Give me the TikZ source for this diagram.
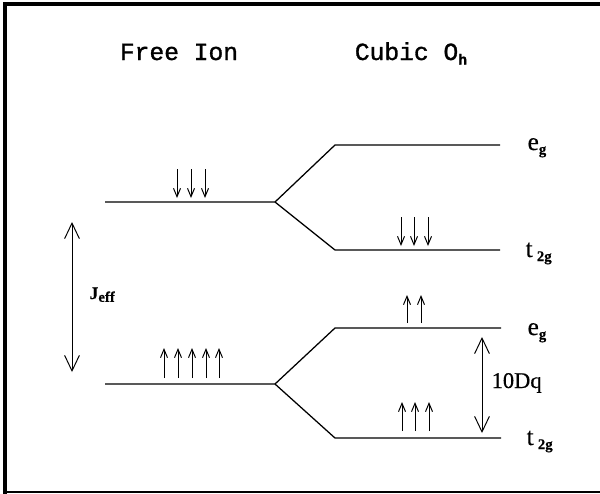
\documentclass[tikz,border=0pt]{standalone}
\usepackage{fontspec}
\setmainfont{Liberation Serif}[FakeBold=0.4]
\newfontfamily\titlefont{Liberation Mono}[FakeBold=1.2]
\usetikzlibrary{arrows.meta,positioning}
\newcommand{\lowidx}[1]{\raisebox{-0.35ex}{\fontsize{10.5}{10}\selectfont\bfseries #1}}

\begin{document}
\begin{tikzpicture}[x=0.025cm, y=-0.025cm, line width=0.9pt,
  spin/.style={-{Straight Barb[length=6pt,width=5pt]}, line width=0.7pt},
  gap/.style={{Straight Barb[length=11pt,width=10.5pt]}-{Straight Barb[length=11pt,width=10.5pt]}, line width=0.7pt},
  lbl/.style={anchor=base west, font=\fontsize{18}{20}\selectfont},
  every node/.style={inner sep=0pt}]
\useasboundingbox (0,0) rectangle (600,494);
% frame
\draw[line width=2.4pt] (5,497) -- (5,4) -- (605,4);
\draw[line width=0.8pt] (5,492) -- (605,492);
% titles
\node[anchor=base, font=\titlefont\fontsize{17.5}{20}\selectfont] (free) at (179,60) {Free Ion};
\node[anchor=base, font=\titlefont\fontsize{17.5}{20}\selectfont] (cubic) at (411,60) {Cubic O\lowidx{h}};
% upper manifold
\coordinate (fu0) at (105,202); \coordinate (fu) at (275,202);
\coordinate (egu0) at (335,145); \coordinate (egu) at (500,145);
\coordinate (tgu0) at (335,250); \coordinate (tgu) at (500,250);
\draw (fu0) -- (fu) -- (egu0) -- (egu);
\draw (fu) -- (tgu0) -- (tgu);
% lower manifold
\coordinate (fl0) at (105,384); \coordinate (fl) at (275,384);
\coordinate (egl0) at (335,328); \coordinate (egl) at (501,328);
\coordinate (tgl0) at (335,438); \coordinate (tgl) at (501,438);
\draw (fl0) -- (fl) -- (egl0) -- (egl);
\draw (fl) -- (tgl0) -- (tgl);
% spins
\foreach \x in {177,191,205} \draw[spin] (\x,169) -- (\x,198);
\foreach \x in {401,414,428} \draw[spin] (\x,217) -- (\x,246);
\foreach \x in {164,178,192,206,219} \draw[spin] (\x,378) -- (\x,348);
\foreach \x in {407,421} \draw[spin] (\x,323) -- (\x,295);
\foreach \x in {402,415,429} \draw[spin] (\x,431) -- (\x,402);
% splittings
\coordinate (jtop) at (72,222); \coordinate (jbot) at (72,372);
\draw[gap] (jtop) -- (jbot);
\coordinate (dqtop) at (482,337); \coordinate (dqbot) at (482,433);
\draw[gap] (dqtop) -- (dqbot);
% labels
\node[lbl] (egup) at (527,150) {e\lowidx{g}};
\node[lbl] (tgup) at (525,257) {t\,\lowidx{2g}};
\node[lbl] (eglo) at (527,335) {e\lowidx{g}};
\node[lbl] (tglo) at (526,445) {t\,\lowidx{2g}};
\node[lbl, font=\fontsize{16}{18}\selectfont] (dq) at (491,388) {10Dq};
\node[anchor=base west, font=\bfseries\fontsize{12.5}{14}\selectfont] (jeff) at (89,299) {J\lowidx{eff}};
\end{tikzpicture}
\end{document}
